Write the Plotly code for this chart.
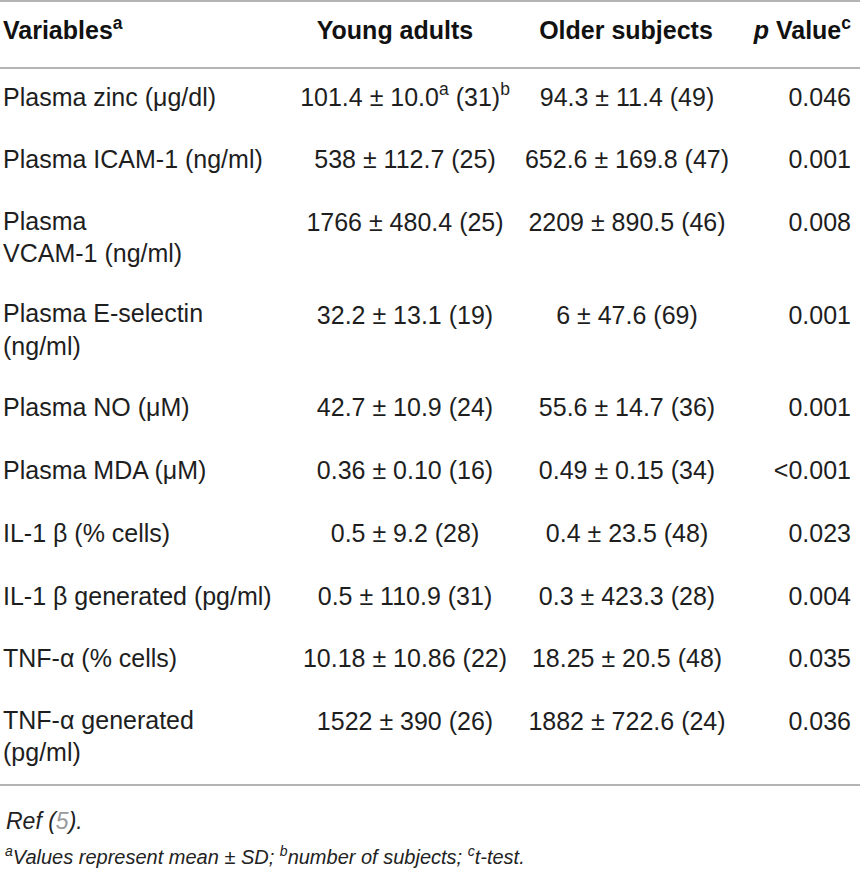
import plotly.graph_objects as go

# Table content
variables = [
    "Plasma zinc (\u03bcg/dl)",
    "Plasma ICAM-1 (ng/ml)",
    "Plasma<br>VCAM-1 (ng/ml)",
    "Plasma E-selectin<br>(ng/ml)",
    "Plasma NO (\u03bcM)",
    "Plasma MDA (\u03bcM)",
    "IL-1 \u03b2 (% cells)",
    "IL-1 \u03b2 generated (pg/ml)",
    "TNF-\u03b1 (% cells)",
    "TNF-\u03b1 generated<br>(pg/ml)",
]
young_adults = [
    "101.4 \u00b1 10.0<sup>a</sup> (31)<sup>b</sup>",
    "538 \u00b1 112.7 (25)",
    "1766 \u00b1 480.4 (25)",
    "32.2 \u00b1 13.1 (19)",
    "42.7 \u00b1 10.9 (24)",
    "0.36 \u00b1 0.10 (16)",
    "0.5 \u00b1 9.2 (28)",
    "0.5 \u00b1 110.9 (31)",
    "10.18 \u00b1 10.86 (22)",
    "1522 \u00b1 390 (26)",
]
older_subjects = [
    "94.3 \u00b1 11.4 (49)",
    "652.6 \u00b1 169.8 (47)",
    "2209 \u00b1 890.5 (46)",
    "6 \u00b1 47.6 (69)",
    "55.6 \u00b1 14.7 (36)",
    "0.49 \u00b1 0.15 (34)",
    "0.4 \u00b1 23.5 (48)",
    "0.3 \u00b1 423.3 (28)",
    "18.25 \u00b1 20.5 (48)",
    "1882 \u00b1 722.6 (24)",
]
p_values = ["0.046", "0.001", "0.008", "0.001", "0.001", "<0.001",
            "0.023", "0.004", "0.035", "0.036"]
headers = ["<b>Variables<sup>a</sup></b>", "<b>Young adults</b>",
           "<b>Older subjects</b>", "<b><i>p</i> Value<sup>c</sup></b>"]

W, H = 860, 871
FONT = "Liberation Sans"
TEXT = "#1e1e1e"
RULE = "#b4b4b4"

# column anchors (px) and how text hangs off them
col_x = [3, 405, 627, 851]
head_x = [3, 395, 626, 851]
col_pos = ["middle right", "middle center", "middle center", "middle left"]

# row geometry: each row = padding + n lines
HEAD_Y, HEAD_RULE = 33, 68
PAD, LINE = 32.7, 30
row_center, first_line = [], []
y = HEAD_RULE
for v in variables:
    n = v.count("<br>") + 1
    h = PAD + n * LINE
    row_center.append(y + h / 2)
    first_line.append(y + PAD / 2 + LINE / 2)
    y += h
BOTTOM_RULE = y

fig = go.Figure()

# header row
fig.add_trace(go.Scatter(
    x=head_x, y=[HEAD_Y] * 4, text=headers, mode="text",
    textposition=col_pos, hoverinfo="skip",
    textfont=dict(family=FONT, size=25, color="#111"),
))

# body columns
columns = [variables, young_adults, older_subjects, p_values]
for i, col in enumerate(columns):
    ys = row_center if i == 0 else first_line
    fig.add_trace(go.Scatter(
        x=[col_x[i]] * len(col), y=ys, text=col, mode="text",
        textposition=col_pos[i], hoverinfo="skip",
        textfont=dict(family=FONT, size=25, color=TEXT),
    ))

# horizontal rules (top, under header, bottom)
for ry in [1, HEAD_RULE, BOTTOM_RULE]:
    fig.add_shape(type="line", xref="x", yref="y", x0=0, x1=W, y0=ry, y1=ry,
                  line=dict(color=RULE, width=2))

fig.add_annotation(
    text="<i>Ref (<span style='color:#9a9a9a'>5</span>).</i>",
    xref="x", yref="y", x=4, y=821, xanchor="left", yanchor="middle",
    showarrow=False, font=dict(family=FONT, size=23, color="#222"))
fig.add_annotation(
    text="<i><sup>a</sup>Values represent mean \u00b1 SD; <sup>b</sup>number of "
         "subjects; <sup>c</sup>t-test.</i>",
    xref="x", yref="y", x=3, y=855, xanchor="left", yanchor="middle",
    showarrow=False, font=dict(family=FONT, size=20, color="#222"))

fig.update_xaxes(range=[0, W], visible=False, fixedrange=True)
fig.update_yaxes(range=[H, 0], visible=False, fixedrange=True)
fig.update_layout(
    width=W, height=H, margin=dict(l=0, r=0, t=0, b=0),
    paper_bgcolor="white", plot_bgcolor="white", showlegend=False,
)

fig.write_html("out.html", config={"displayModeBar": False},
               post_script="document.body.style.margin='0px';"
                           "document.body.style.overflow='hidden';")
